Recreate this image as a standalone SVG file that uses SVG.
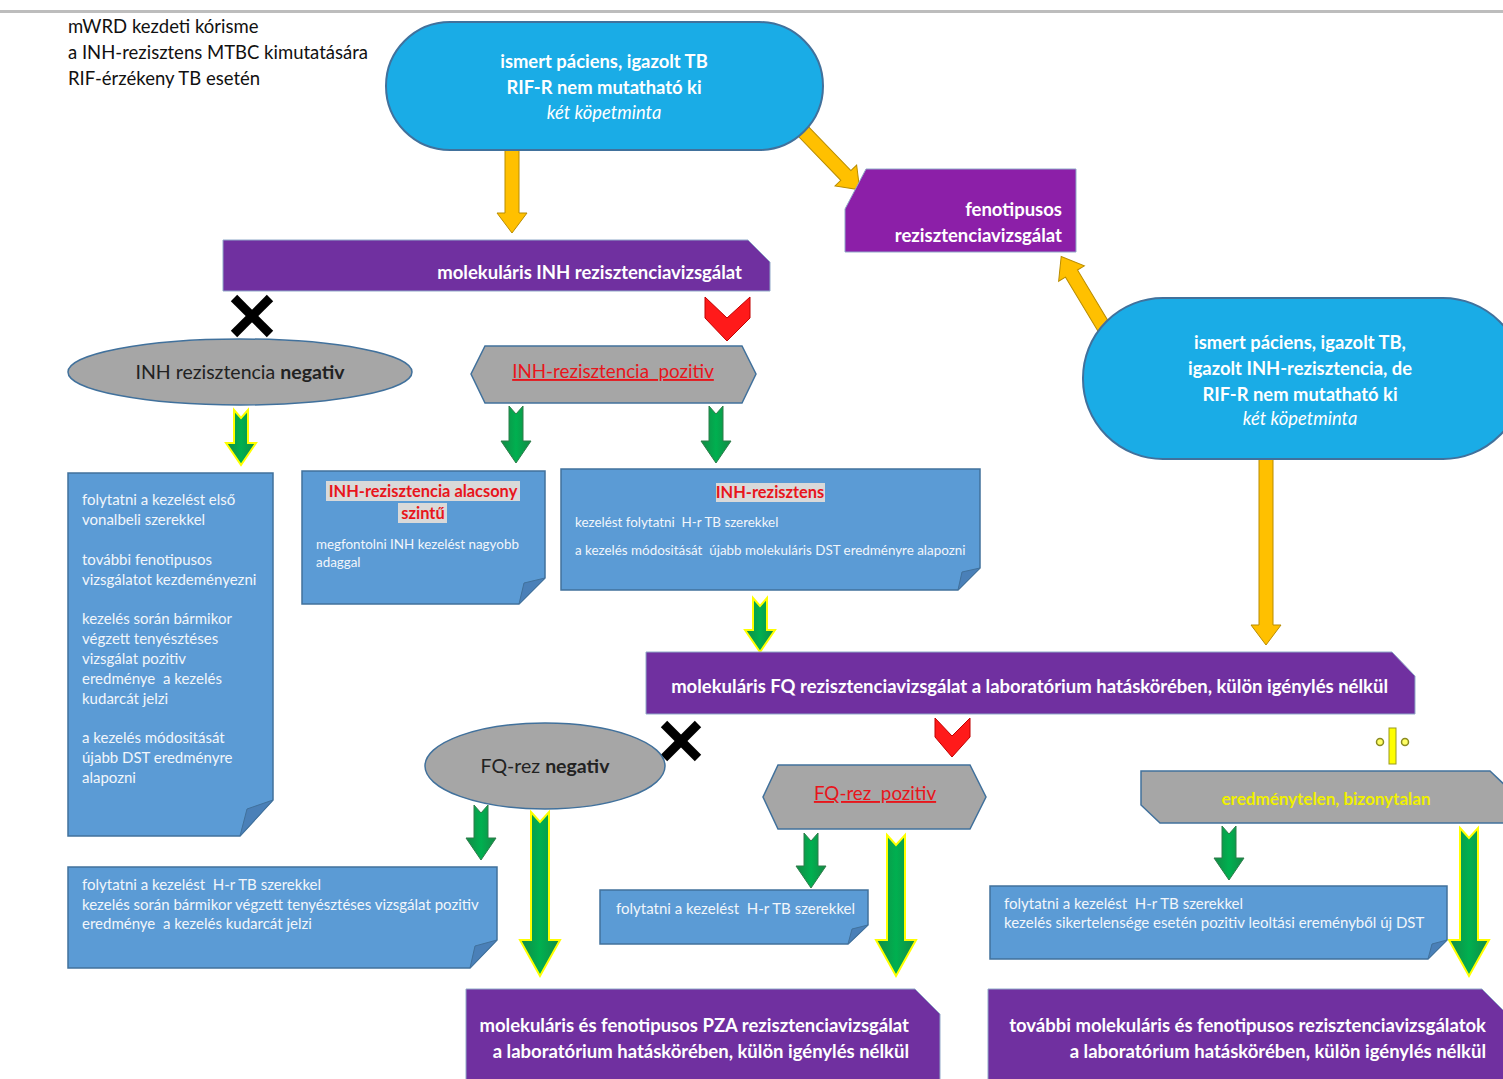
<svg xmlns="http://www.w3.org/2000/svg" width="1503" height="1079" viewBox="0 0 1503 1079">
<defs>
<style>
text{font-family:Lato,"Liberation Sans",sans-serif}
.title{font-size:18.5px;fill:#111}
.blue{fill:#1aace6;stroke:#41719c;stroke-width:2}
.wt{fill:#ffffff;font-weight:bold;font-size:18.4px}
.it{font-style:italic;font-weight:normal}
.purple{fill:#7030a0;stroke:#8fa8c8;stroke-width:1}
.magenta{fill:#8c1fa8;stroke:#8fa8c8;stroke-width:1}
.pt{fill:#ffffff;font-weight:bold;font-size:18.5px}
.gray{fill:#a6a6a6;stroke:#41719c;stroke-width:1.5}
.dk{fill:#222;font-size:19.5px}
.red{fill:#e8151b;font-size:18.8px;text-decoration:underline}
.note{fill:#5b9bd5;stroke:#41719c;stroke-width:1.5}
.fold{fill:#4a80b8;stroke:#41719c;stroke-width:1}
.nt{fill:#f2f6fb;font-size:15px}
.ns{fill:#f2f6fb;font-size:13.4px}
.nm{fill:#f2f6fb;font-size:15px}
.rt{fill:#e8151b;font-weight:bold;font-size:16.4px}
.hl{fill:#d9d9d9}
.org{fill:#ffc000;stroke:#b98c00;stroke-width:1}
.grn{fill:url(#gg);stroke:#2e7d4a;stroke-width:1}
.grny{fill:url(#gg);stroke:#ffff00;stroke-width:2}
.xmark{stroke:#000;stroke-width:9;stroke-linecap:butt}
.chev{fill:#ff1a1a;stroke:#c00000;stroke-width:1}
</style>
<linearGradient id="gg" x1="0" y1="0" x2="1" y2="0">
<stop offset="0" stop-color="#138a45"/>
<stop offset="0.5" stop-color="#00b050"/>
<stop offset="1" stop-color="#138a45"/>
</linearGradient>
</defs>
<rect x="0" y="0" width="1503" height="1079" fill="#ffffff"/>
<rect x="0" y="10" width="1503" height="3" fill="#bdbdbd"/>

<g id="title">
<text class="title" x="68" y="33">mWRD kezdeti kórisme</text>
<text class="title" x="68" y="59">a INH-rezisztens MTBC kimutatására</text>
<text class="title" x="68" y="85">RIF-érzékeny TB esetén</text>
</g>

<g id="connectors">
<polygon class="org" points="505,145 519,145 519,213 527,213 512,233 497,213 505,213"/>
<polygon class="org" transform="translate(800,128) rotate(46)" points="0,-7 66,-7 66,-15 86,0 66,15 66,7 0,7"/>
<polygon class="org" transform="translate(1106,331) rotate(-121)" points="0,-7 67,-7 67,-15 87,0 67,15 67,7 0,7"/>
<polygon class="org" points="1259,452 1273,452 1273,625 1281,625 1266,645 1251,625 1259,625"/>
<polygon class="grny" points="234,410 241,418 248,410 248,443 256,443 241,465 226,443 234,443"/>
<polygon class="grn" points="509,406 516,414 523,406 523,441 531,441 516,463 501,441 509,441"/>
<polygon class="grn" points="709,406 716,414 723,406 723,441 731,441 716,463 701,441 709,441"/>
<polygon class="grny" points="753,598 760,606 767,598 767,630 775,630 760,652 745,630 753,630"/>
<polygon class="grn" points="474,805 481,813 488,805 488,838 496,838 481,860 466,838 474,838"/>
<polygon class="grny" points="531,812 540,822 549,812 549,940 560,940 540,976 520,940 531,940"/>
<polygon class="grn" points="804,833 811,841 818,833 818,866 826,866 811,888 796,866 804,866"/>
<polygon class="grny" points="887,835 896,845 905,835 905,940 916,940 896,976 876,940 887,940"/>
<polygon class="grn" points="1222,826 1229,834 1236,826 1236,858 1244,858 1229,880 1214,858 1222,858"/>
<polygon class="grny" points="1460,828 1469,838 1478,828 1478,940 1489,940 1469,976 1449,940 1460,940"/>
<line class="xmark" x1="234" y1="298" x2="270" y2="334"/>
<line class="xmark" x1="270" y1="298" x2="234" y2="334"/>
<polygon class="chev" points="705,297 727,318 750,297 750,318 727,341 705,318"/>
<line class="xmark" x1="664" y1="724" x2="698" y2="758"/>
<line class="xmark" x1="698" y1="724" x2="664" y2="758"/>
<polygon class="chev" points="935,718 952,736 970,718 970,737 952,757 935,737"/>
<rect x="1389" y="728" width="7" height="36" fill="#ffff00" stroke="#9a9a20" stroke-width="1"/>
<circle cx="1380" cy="742" r="3.5" fill="#ffff66" stroke="#8a8a20" stroke-width="1.5"/>
<circle cx="1405" cy="742" r="3.5" fill="#ffff66" stroke="#8a8a20" stroke-width="1.5"/>
</g>

<g id="node-start1">
<rect class="blue" x="386" y="22" width="437" height="128" rx="64" ry="64"/>
<text class="wt" x="604" y="68" text-anchor="middle">ismert páciens, igazolt TB</text>
<text class="wt" x="604" y="94" text-anchor="middle">RIF-R nem mutatható ki</text>
<text class="wt it" x="604" y="119" text-anchor="middle">két köpetminta</text>
</g>

<g id="node-fenotip">
<polygon class="magenta" points="866,169 1076,169 1076,252 845,252 845,209"/>
<text class="pt" x="1062" y="216" text-anchor="end" fill="#f7e8f7">fenotipusos</text>
<text class="pt" x="1062" y="242" text-anchor="end">rezisztenciavizsgálat</text>
</g>

<g id="node-start2">
<rect class="blue" x="1083" y="298" width="440" height="161" rx="80" ry="80"/>
<text class="wt" x="1300" y="349" text-anchor="middle">ismert páciens, igazolt TB,</text>
<text class="wt" x="1300" y="375" text-anchor="middle">igazolt INH-rezisztencia, de</text>
<text class="wt" x="1300" y="401" text-anchor="middle">RIF-R nem mutatható ki</text>
<text class="wt it" x="1300" y="425" text-anchor="middle">két köpetminta</text>
</g>

<g id="node-inh-test">
<polygon class="purple" points="223,240 748,240 770,262 770,291 223,291"/>
<text class="pt" x="742" y="279" text-anchor="end">molekuláris INH rezisztenciavizsgálat</text>
</g>

<g id="node-inh-neg">
<ellipse class="gray" cx="240" cy="372" rx="172" ry="33"/>
<text class="dk" x="240" y="379" text-anchor="middle">INH rezisztencia <tspan font-weight="bold">negativ</tspan></text>
</g>

<g id="node-inh-pos">
<polygon class="gray" points="485,346 742,346 756,374 742,403 485,403 471,374"/>
<text class="red" x="613" y="378" text-anchor="middle">INH-rezisztencia&#160; pozitiv</text>
</g>

<g id="note-inh-neg">
<polygon class="note" points="68,473 273,473 273,800 240,836 68,836"/>
<polygon class="fold" points="273,800 240,836 247,809"/>
<text class="nt" x="82" y="505">folytatni a kezelést első</text>
<text class="nt" x="82" y="525">vonalbeli szerekkel</text>
<text class="nt" x="82" y="565">további fenotipusos</text>
<text class="nt" x="82" y="585">vizsgálatot kezdeményezni</text>
<text class="nt" x="82" y="624">kezelés során bármikor</text>
<text class="nt" x="82" y="644">végzett tenyésztéses</text>
<text class="nt" x="82" y="664">vizsgálat pozitiv</text>
<text class="nt" x="82" y="684">eredménye&#160; a kezelés</text>
<text class="nt" x="82" y="704">kudarcát jelzi</text>
<text class="nt" x="82" y="743">a kezelés módositását</text>
<text class="nt" x="82" y="763">újabb DST eredményre</text>
<text class="nt" x="82" y="783">alapozni</text>
</g>

<g id="note-inh-low">
<polygon class="note" points="302,471 545,471 545,578 519,604 302,604"/>
<polygon class="fold" points="545,578 519,604 524,583"/>
<rect class="hl" x="326" y="481" width="194" height="20"/>
<rect class="hl" x="398" y="503" width="49" height="20"/>
<text class="rt" x="423" y="497" text-anchor="middle">INH-rezisztencia alacsony</text>
<text class="rt" x="423" y="519" text-anchor="middle">szintű</text>
<text class="ns" x="316" y="549">megfontolni INH kezelést nagyobb</text>
<text class="ns" x="316" y="567">adaggal</text>
</g>

<g id="note-inh-res">
<polygon class="note" points="561,469 980,469 980,568 958,590 561,590"/>
<polygon class="fold" points="980,568 958,590 962,572"/>
<rect class="hl" x="716" y="483" width="109" height="19"/>
<text class="rt" x="770" y="498" text-anchor="middle">INH-rezisztens</text>
<text class="ns" x="575" y="527">kezelést folytatni&#160; H-r TB szerekkel</text>
<text class="ns" x="575" y="555">a kezelés módositását&#160; újabb molekuláris DST eredményre alapozni</text>
</g>

<g id="node-fq-test">
<polygon class="purple" points="646,652 1392,652 1415,676 1415,714 646,714"/>
<text class="pt" x="1388" y="693" text-anchor="end">molekuláris FQ rezisztenciavizsgálat a laboratórium hatáskörében, külön igénylés nélkül</text>
</g>

<g id="node-fq-neg">
<ellipse class="gray" cx="545" cy="766" rx="120" ry="43"/>
<text class="dk" x="545" y="773" text-anchor="middle">FQ-rez <tspan font-weight="bold">negativ</tspan></text>
</g>

<g id="node-fq-pos">
<polygon class="gray" points="778,765 970,765 986,797 970,829 778,829 763,797"/>
<text class="red" x="875" y="800" text-anchor="middle">FQ-rez&#160; pozitiv</text>
</g>

<g id="node-fq-unc">
<polygon class="gray" points="1141,771 1490,771 1510,790 1510,823 1160,823 1141,805"/>
<text x="1326" y="805" text-anchor="middle" font-weight="bold" font-size="17" fill="#f0f000">eredménytelen, bizonytalan</text>
</g>

<g id="note-fq-neg">
<polygon class="note" points="68,867 497,867 497,940 470,968 68,968"/>
<polygon class="fold" points="497,940 470,968 475,946"/>
<text class="nm" x="82" y="890">folytatni a kezelést&#160; H-r TB szerekkel</text>
<text class="nm" x="82" y="910">kezelés során bármikor végzett tenyésztéses vizsgálat pozitiv</text>
<text class="nm" x="82" y="929">eredménye&#160; a kezelés kudarcát jelzi</text>
</g>

<g id="note-fq-pos">
<polygon class="note" points="600,890 868,890 868,925 848,944 600,944"/>
<polygon class="fold" points="868,925 848,944 852,929"/>
<text class="nm" x="616" y="914">folytatni a kezelést&#160; H-r TB szerekkel</text>
</g>

<g id="note-fq-unc">
<polygon class="note" points="990,886 1447,886 1447,940 1428,959 990,959"/>
<polygon class="fold" points="1447,940 1428,959 1432,944"/>
<text class="nm" x="1004" y="909">folytatni a kezelést&#160; H-r TB szerekkel</text>
<text class="nm" x="1004" y="928">kezelés sikertelensége esetén pozitiv leoltási ereményből új DST</text>
</g>

<g id="node-pza">
<polygon class="purple" points="466,989 915,989 940,1014 940,1085 466,1085"/>
<text class="pt" x="909" y="1032" text-anchor="end">molekuláris és fenotipusos PZA rezisztenciavizsgálat</text>
<text class="pt" x="909" y="1058" text-anchor="end">a laboratórium hatáskörében, külön igénylés nélkül</text>
</g>

<g id="node-further">
<polygon class="purple" points="988,989 1482,989 1505,1012 1505,1085 988,1085"/>
<text class="pt" x="1486" y="1032" text-anchor="end">további molekuláris és fenotipusos rezisztenciavizsgálatok</text>
<text class="pt" x="1486" y="1058" text-anchor="end">a laboratórium hatáskörében, külön igénylés nélkül</text>
</g>
</svg>
